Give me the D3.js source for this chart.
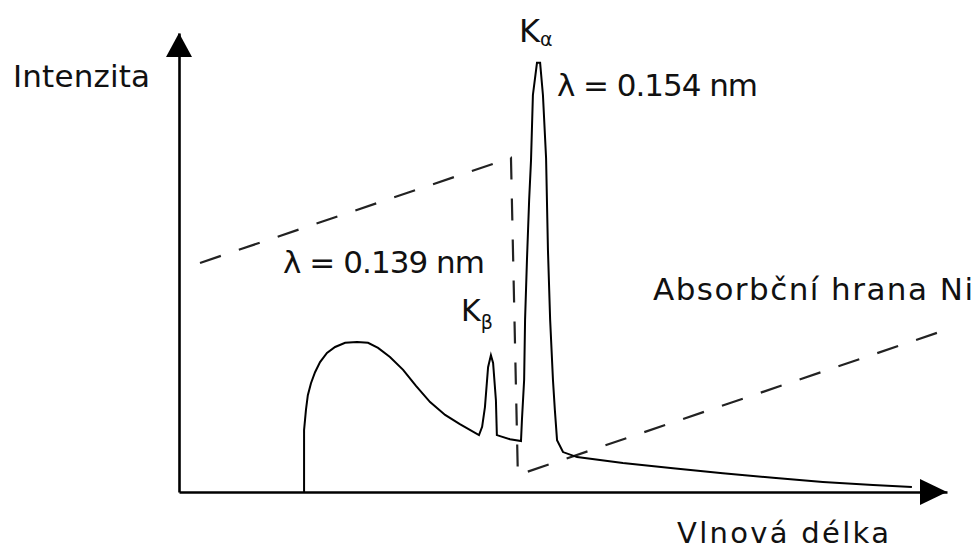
<!DOCTYPE html>
<html>
<head>
<meta charset="utf-8">
<script src="https://cdn.jsdelivr.net/npm/d3@7"></script>
<style>
  html, body { margin: 0; padding: 0; background: #fff; }
  svg { display: block; }
  text { font-family: "DejaVu Sans", "Liberation Sans", sans-serif; fill: #111; }
</style>
</head>
<body>
<svg id="chart" width="979" height="550"></svg>
<script>
// ---- data (wavelength in nm, intensity in arbitrary units 0..100) ----
const spectrumWavelength = [
  0.0799, 0.0799, 0.0805, 0.0811, 0.0821, 0.0834, 0.0850, 0.0872, 0.0898, 0.0930,
  0.0968, 0.1003, 0.1035, 0.1073, 0.1115, 0.1156, 0.1201, 0.1249, 0.1296, 0.1357,
  0.1367, 0.1376, 0.1386, 0.1395, 0.1402, 0.1411, 0.1414, 0.1456, 0.1491, 0.1494,
  0.1501, 0.1504, 0.1510, 0.1517, 0.1523, 0.1529, 0.1542, 0.1552, 0.1561, 0.1571,
  0.1577, 0.1584, 0.1593, 0.1599, 0.1606, 0.1625, 0.1670, 0.1816, 0.1976, 0.2135,
  0.2295, 0.2454, 0.2614, 0.2738
];
const spectrumIntensity = [
  0, 13.5, 17.9, 21.1, 23.7, 26.1, 28.3, 30.3, 31.6, 32.5,
  32.7, 32.5, 31.4, 29.4, 26.6, 23.1, 19.6, 16.8, 14.8, 12.4,
  14.2, 18.5, 27.2, 29.8, 28.1, 20.0, 12.4, 11.5, 11.1, 15.7,
  24.4, 37.5, 50.5, 63.6, 72.3, 86.5, 93.5, 93.5, 86.5, 72.8,
  52.7, 37.5, 24.4, 17.9, 11.3, 8.7, 7.6, 6.3, 5.2, 4.1,
  3.1, 2.2, 1.5, 1.1
];
// Ni absorption edge (dashed)
const edgeWavelength = [0.0467, 0.1459, 0.1481, 0.2828];
const edgeIntensity  = [49.9, 72.8, 3.7, 34.9];

const axisLabels = { y: "Intenzita", x: "Vlnová délka" };
const kAlphaLabel = ["K", "α"];
const kBetaLabel = ["K", "β"];
const kAlphaText = "λ = 0.154 nm";
const kBetaText = "λ = 0.139 nm";
const edgeText = "Absorbční hrana Ni";

// ---- scales ----
const x = d3.scaleLinear().domain([0.04, 0.285]).range([179, 947]);
const y = d3.scaleLinear().domain([0, 100]).range([492, 33]);

const svg = d3.select("#chart");

// ---- axes (no ticks, arrows) ----
const yAxis = d3.axisLeft(y).tickValues([]).tickSizeOuter(0);
const xAxis = d3.axisBottom(x).tickValues([]).tickSizeOuter(0);
svg.append("g").attr("transform", `translate(${x.range()[0]},0)`).call(yAxis)
  .select(".domain").attr("stroke", "#000").attr("stroke-width", 2.6);
svg.append("g").attr("transform", `translate(0,${y.range()[0]})`).call(xAxis)
  .select(".domain").attr("stroke", "#000").attr("stroke-width", 2.6);

// arrowheads
const ax0 = x.range()[0], yTop = y.range()[1];
svg.append("path")
  .attr("d", `M${ax0},${yTop} L${ax0 - 13},${yTop + 24} L${ax0 + 13},${yTop + 24} Z`)
  .attr("fill", "#000");
const xEnd = x.range()[1], ay0 = y.range()[0];
svg.append("path")
  .attr("d", `M${xEnd},${ay0} L${xEnd - 27},${ay0 - 13} L${xEnd - 27},${ay0 + 13} Z`)
  .attr("fill", "#000");

// ---- dashed absorption edge ----
const edgeData = edgeWavelength.map((w, i) => [w, edgeIntensity[i]]);
svg.append("path")
  .datum(edgeData)
  .attr("d", d3.line().x(d => x(d[0])).y(d => y(d[1])))
  .attr("fill", "none")
  .attr("stroke", "#222")
  .attr("stroke-width", 2.2)
  .attr("stroke-dasharray", "22,19");

// ---- spectrum ----
const specData = spectrumWavelength.map((w, i) => [w, spectrumIntensity[i]]);
svg.append("path")
  .datum(specData)
  .attr("d", d3.line().x(d => x(d[0])).y(d => y(d[1])))
  .attr("fill", "none")
  .attr("stroke", "#000")
  .attr("stroke-width", 2)
  .attr("stroke-linejoin", "miter");

// ---- texts ----
const fs = 31;
function label(txt, px, py, len, size) {
  const t = svg.append("text").attr("x", px).attr("y", py)
    .attr("font-size", size || fs).text(txt);
  if (len) t.attr("textLength", len).attr("lengthAdjust", "spacing");
  return t;
}
label(axisLabels.y, 13, 87, 137);
label(axisLabels.x, 677, 543, 212, 29);
label(kAlphaText, 557, 96, 201);
label(kBetaText, 283, 273, 202);
label(edgeText, 653, 300, 320);

// K-alpha label above peak
const kaT = svg.append("text").attr("x", 519).attr("y", 42).attr("font-size", 32);
kaT.append("tspan").text(kAlphaLabel[0]);
kaT.append("tspan").attr("font-size", 19).attr("dy", 4).text(kAlphaLabel[1]);

// K-beta label above peak
const kbT = svg.append("text").attr("x", 461).attr("y", 321).attr("font-size", 30);
kbT.append("tspan").text(kBetaLabel[0]);
kbT.append("tspan").attr("font-size", 19).attr("dy", 8).text(kBetaLabel[1]);
</script>
</body>
</html>
